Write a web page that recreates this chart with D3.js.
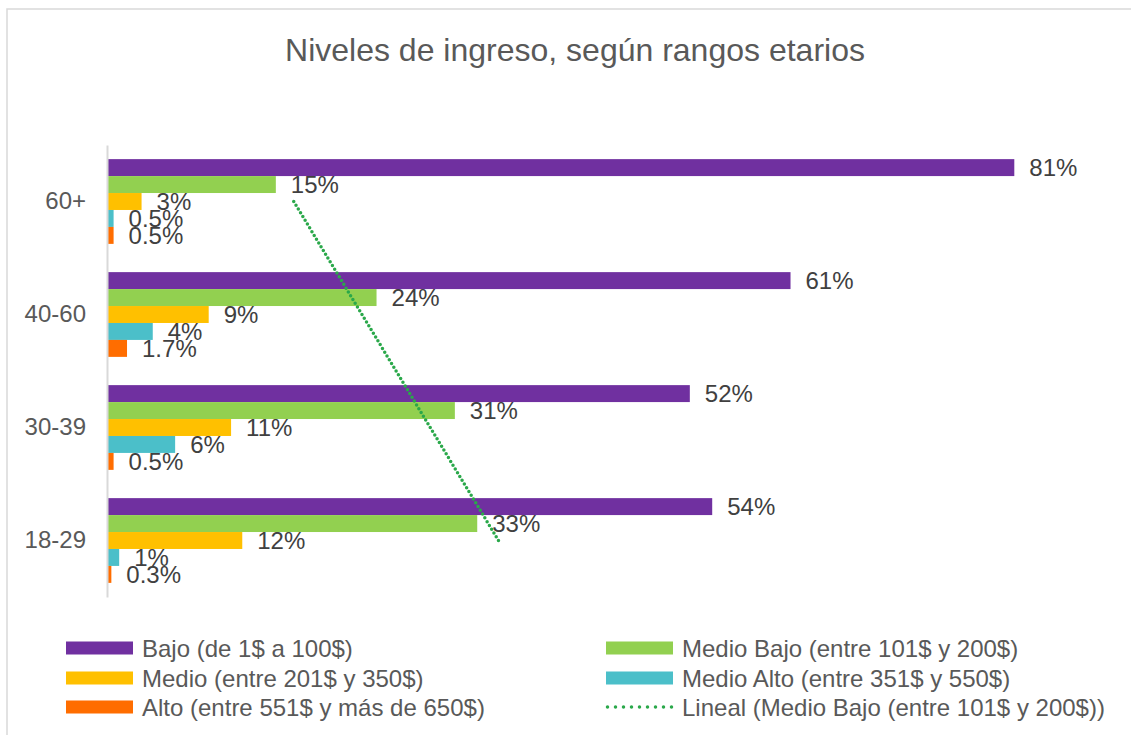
<!DOCTYPE html>
<html>
<head>
<meta charset="utf-8">
<script src="https://cdn.jsdelivr.net/npm/d3@7"></script>
<style>
    body { margin: 0; background: #fff; }
    svg { font-family: "Liberation Sans", Arial, sans-serif; }
</style>
</head>
<body>
<div id="chart"></div>
<script>
// age groups, drawn top to bottom
var categories = ["60+", "40-60", "30-39", "18-29"];

var seriesNames = [
    "Bajo (de 1$ a 100$)",
    "Medio Bajo (entre 101$ y 200$)",
    "Medio (entre 201$ y 350$)",
    "Medio Alto (entre 351$ y 550$)",
    "Alto (entre 551$ y más de 650$)"
];
var seriesColors = ["#7030A0", "#92D050", "#FFC000", "#4BBFC9", "#FF6D00"];

// percent values, one per category (same order as categories)
var bajo      = [81, 61, 52, 54];
var medioBajo = [15, 24, 31, 33];
var medio     = [3, 9, 11, 12];
var medioAlto = [0.5, 4, 6, 1];
var alto      = [0.5, 1.7, 0.5, 0.3];
var series = [bajo, medioBajo, medio, medioAlto, alto];

var trendName = "Lineal (Medio Bajo (entre 101$ y 200$))";
var trendColor = "#2AA84A";

var width = 1131, height = 735;

var svg = d3.select("#chart").append("svg")
    .attr("width", width)
    .attr("height", height);

// chart frame (clipped at right and bottom)
svg.append("path")
    .attr("d", "M7," + height + "V9H" + width)
    .attr("fill", "none")
    .attr("stroke", "#d9d9d9")
    .attr("stroke-width", 1.5);

svg.append("text")
    .attr("x", 575).attr("y", 61)
    .attr("text-anchor", "middle")
    .attr("font-size", 32)
    .attr("fill", "#595959")
    .text("Niveles de ingreso, según rangos etarios");

var x = d3.scaleLinear().domain([0, 90]).range([108, 1115]);

var y = d3.scaleBand()
    .domain(categories)
    .range([145, 597])
    .paddingInner(0.25)
    .paddingOuter(0.125);

var ySub = d3.scaleBand()
    .domain(d3.range(series.length))
    .range([0, y.bandwidth()]);

var plot = svg.append("g");

series.forEach(function (vals, si) {
    var g = plot.append("g");
    g.selectAll("rect").data(vals)
        .enter().append("rect")
        .attr("x", x(0))
        .attr("y", function (d, i) { return y(categories[i]) + ySub(si); })
        .attr("width", function (d) { return x(d) - x(0); })
        .attr("height", ySub.bandwidth())
        .attr("fill", seriesColors[si]);
});

// data labels after all bars so they sit on top
series.forEach(function (vals, si) {
    plot.append("g").selectAll("text").data(vals)
        .enter().append("text")
        .attr("x", function (d) { return x(d) + 15; })
        .attr("y", function (d, i) { return y(categories[i]) + ySub(si) + ySub.bandwidth() / 2; })
        .attr("dy", "0.36em")
        .attr("font-size", 24)
        .attr("fill", "#404040")
        .text(function (d) { return d + "%"; });
});

// category axis
var yAxis = svg.append("g")
    .attr("transform", "translate(107,0)")
    .call(d3.axisLeft(y).tickSize(0).tickPadding(21));
yAxis.select(".domain").attr("stroke", "#d9d9d9").attr("stroke-width", 2);
yAxis.selectAll("text")
    .attr("font-size", 24)
    .attr("font-family", "Liberation Sans, Arial, sans-serif")
    .attr("fill", "#595959");

// linear trendline of Medio Bajo, category index 1..n from bottom
var pts = medioBajo.map(function (v, i) { return [categories.length - i, v]; });
var mx = d3.mean(pts, function (p) { return p[0]; });
var my = d3.mean(pts, function (p) { return p[1]; });
var slope = d3.sum(pts, function (p) { return (p[0] - mx) * (p[1] - my); }) /
            d3.sum(pts, function (p) { return (p[0] - mx) * (p[0] - mx); });
var intercept = my - slope * mx;
var trendPts = categories.map(function (c, i) {
    var k = categories.length - i;
    return [x(intercept + slope * k), y(c) + y.bandwidth() / 2];
});
var ends = [trendPts[0], trendPts[trendPts.length - 1]];

plot.append("path")
    .attr("d", d3.line()(ends))
    .attr("fill", "none")
    .attr("stroke", trendColor)
    .attr("stroke-width", 3.5)
    .attr("stroke-linecap", "round")
    .attr("stroke-dasharray", "0,4.4");

// legend
var legendItems = [
    { name: seriesNames[0], color: seriesColors[0], col: 0, row: 0 },
    { name: seriesNames[1], color: seriesColors[1], col: 1, row: 0 },
    { name: seriesNames[2], color: seriesColors[2], col: 0, row: 1 },
    { name: seriesNames[3], color: seriesColors[3], col: 1, row: 1 },
    { name: seriesNames[4], color: seriesColors[4], col: 0, row: 2 },
    { name: trendName, color: trendColor, col: 1, row: 2, trend: true }
];
var colX = [66, 606], rowY = [648, 678, 707];

var legend = svg.append("g").selectAll("g").data(legendItems)
    .enter().append("g")
    .attr("transform", function (d) { return "translate(" + colX[d.col] + "," + rowY[d.row] + ")"; });

legend.each(function (d) {
    var g = d3.select(this);
    if (d.trend) {
        g.append("line")
            .attr("x1", 1.5).attr("x2", 66).attr("y1", 0).attr("y2", 0)
            .attr("stroke", d.color)
            .attr("stroke-width", 3.5)
            .attr("stroke-linecap", "round")
            .attr("stroke-dasharray", "0,8");
    } else {
        g.append("rect")
            .attr("x", 0).attr("y", -6.5)
            .attr("width", 67).attr("height", 13)
            .attr("fill", d.color);
    }
    g.append("text")
        .attr("x", 76).attr("y", 0)
        .attr("dy", "0.36em")
        .attr("font-size", 24)
        .attr("fill", "#595959")
        .text(d.name);
});
</script>
</body>
</html>
